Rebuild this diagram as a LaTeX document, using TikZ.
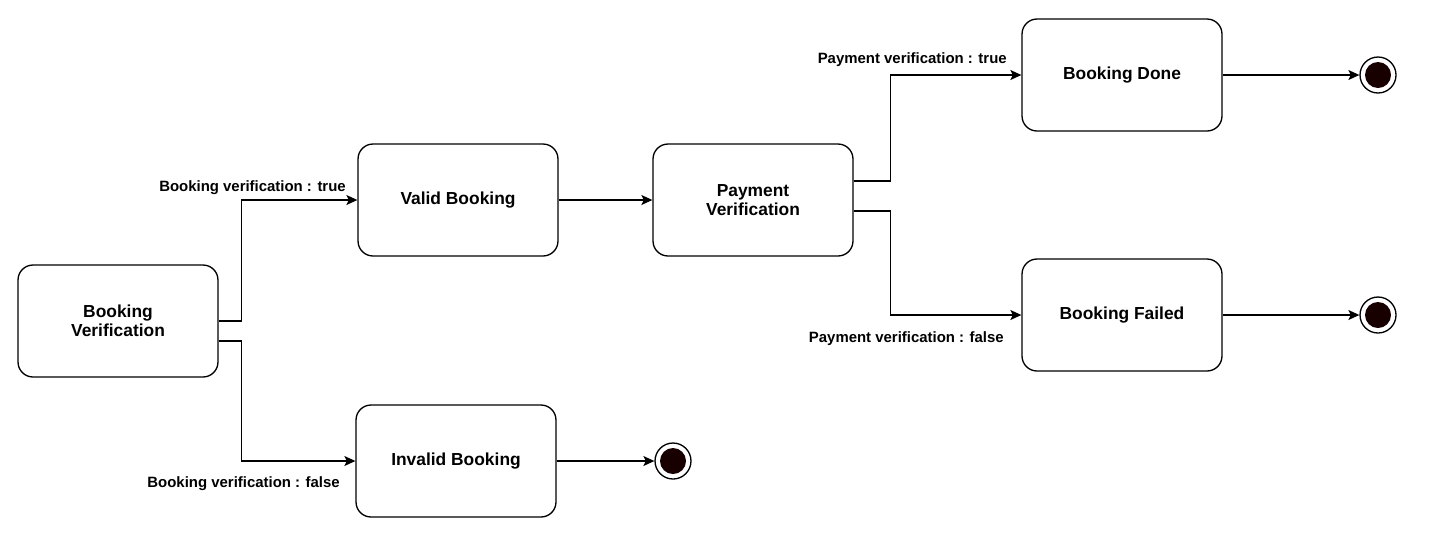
\documentclass[tikz,border=0pt]{standalone}
\usepackage{fontspec}
\setmainfont{Liberation Sans}
\usepackage{tikz}
\usetikzlibrary{
    arrows.meta,
    calc,
    positioning,
}
\tikzstyle{arrow}=[-{Stealth[length=2.2mm, width=2mm, inset=0.5mm]}]
\tikzset{
    every picture/.style={line width=0.75pt},
    state/.style={draw, rounded corners=0.3cm, minimum width=4cm, minimum height=2.24cm,
        align=center, font=\fontsize{9.9}{11}\selectfont\bfseries},
    guard/.style={inner sep=0pt, font=\fontsize{8.5}{10}\selectfont\bfseries},
    endouter/.style={draw, circle, minimum size=0.72cm, inner sep=0pt, fill=white},
    endinner/.style={circle, minimum size=0.52cm, inner sep=0pt, fill=black!90!red},
}

\begin{document}
\begin{tikzpicture}[x=0.02cm, y=-0.02cm]
    \useasboundingbox (0,0) rectangle (1439,556);
    % states
    \node[state] (bookver) at (118,321) {Booking\\Verification};
    \node[state] (validbk) at (458,200) {Valid Booking};
    \node[state] (invalidbk) at (456,461) {Invalid Booking};
    \node[state] (payver) at (753,200) {Payment\\Verification};
    \node[state] (bkdone) at (1122,75) {Booking Done};
    \node[state] (bkfailed) at (1122,315) {Booking Failed};
    % final states
    \node[endouter] (endinv) at (673,461) {};
    \node[endinner] at (endinv) {};
    \node[endouter] (enddone) at (1378,75) {};
    \node[endinner] at (enddone) {};
    \node[endouter] (endfail) at (1378,315) {};
    \node[endinner] at (endfail) {};
    % transitions
    \draw[arrow] (bookver.east) -- ++(23,0) |- (validbk.west);
    \draw[arrow] ($(bookver.east)+(0,20)$) -- ++(23,0) |- (invalidbk.west);
    \draw[arrow] (validbk.east) -- (payver.west);
    \draw[arrow] ($(payver.east)+(0,-19)$) -- ++(37,0) |- (bkdone.west);
    \draw[arrow] ($(payver.east)+(0,11)$) -- ++(37,0) |- (bkfailed.west);
    \draw[arrow] (invalidbk.east) -- (endinv.west);
    \draw[arrow] (bkdone.east) -- (enddone.west);
    \draw[arrow] (bkfailed.east) -- (endfail.west);
    % guards
    \node[guard, above left=0.1cm and 0.22cm of validbk.west] (gtrue) {Booking verification : true};
    \node[guard, below left=0.3cm and 0.3cm of invalidbk.west] (gfalse) {Booking verification : false};
    \node[guard, above left=0.16cm and 0.28cm of bkdone.west] (ptrue) {Payment verification : true};
    \node[guard, below left=0.33cm and 0.34cm of bkfailed.west] (pfalse) {Payment verification : false};
\end{tikzpicture}
\end{document}
